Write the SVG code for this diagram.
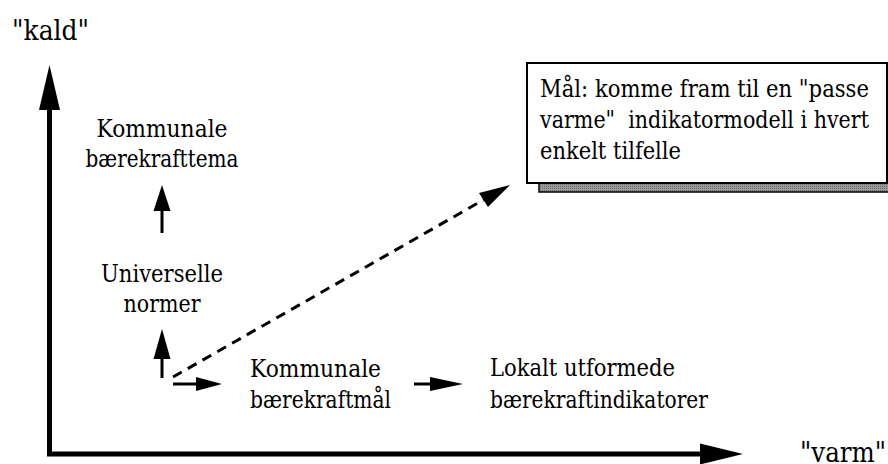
<svg xmlns="http://www.w3.org/2000/svg" width="888" height="464" viewBox="0 0 888 464">
  <style>
    text { font-family: "DejaVu Serif", "Liberation Serif", serif; fill: #000; }
    .lbl { font-size: 23.5px; }
    .axis-lbl { font-size: 27px; }
    .pre { white-space: pre; }
    .axis { stroke: #000; stroke-width: 5; fill: none; }
    .step { stroke: #000; stroke-width: 3; fill: none; }
    .dash { stroke: #000; stroke-width: 3; fill: none; stroke-dasharray: 10 7; }
    .head { fill: #000; stroke: none; }
  </style>
  <defs>
    <!-- fine halftone grey used for the drop shadow -->
    <pattern id="halftone" width="2" height="2" patternUnits="userSpaceOnUse">
      <rect width="2" height="2" fill="#9a9a9a"/>
      <rect width="1" height="1" fill="#6e6e6e"/>
    </pattern>
  </defs>

  <rect width="888" height="464" fill="#fff"/>

  <!-- axes -->
  <g id="axes">
    <line class="axis" x1="49.5" y1="456" x2="49.5" y2="105"/>
    <polygon class="head" points="49.5,65 39,110 60,110"/>
    <line class="axis" x1="47" y1="454" x2="705" y2="454"/>
    <polygon class="head" points="743,454 700,443.5 700,464.5"/>
    <text class="axis-lbl" x="12" y="40" textLength="77" lengthAdjust="spacingAndGlyphs">"kald"</text>
    <text class="axis-lbl" x="800" y="462" textLength="86" lengthAdjust="spacingAndGlyphs">"varm"</text>
  </g>

  <!-- nodes -->
  <g id="node-tema">
    <text class="lbl" x="162" y="137" text-anchor="middle" textLength="131" lengthAdjust="spacingAndGlyphs">Kommunale</text>
    <text class="lbl" x="162" y="167" text-anchor="middle" textLength="153" lengthAdjust="spacingAndGlyphs">bærekrafttema</text>
  </g>
  <g id="node-normer">
    <text class="lbl" x="162" y="282" text-anchor="middle" textLength="122" lengthAdjust="spacingAndGlyphs">Universelle</text>
    <text class="lbl" x="162" y="312" text-anchor="middle" textLength="77" lengthAdjust="spacingAndGlyphs">normer</text>
  </g>
  <g id="node-maal">
    <text class="lbl" x="250" y="377" textLength="131" lengthAdjust="spacingAndGlyphs">Kommunale</text>
    <text class="lbl" x="250" y="408" textLength="141" lengthAdjust="spacingAndGlyphs">bærekraftmål</text>
  </g>
  <g id="node-indikatorer">
    <text class="lbl" x="490" y="376" textLength="185" lengthAdjust="spacingAndGlyphs">Lokalt utformede</text>
    <text class="lbl" x="490" y="408" textLength="218" lengthAdjust="spacingAndGlyphs">bærekraftindikatorer</text>
  </g>
  <g id="node-goal">
    <rect x="539" y="73" width="360" height="119" fill="url(#halftone)" stroke="#000" stroke-width="1.5"/>
    <rect x="527" y="63" width="360" height="120" fill="#fff" stroke="#000" stroke-width="2"/>
    <text class="lbl" x="540" y="97" textLength="329" lengthAdjust="spacingAndGlyphs">Mål: komme fram til en "passe</text>
    <text class="lbl pre" x="540" y="128" textLength="329" lengthAdjust="spacingAndGlyphs">varme"  indikatormodell i hvert</text>
    <text class="lbl" x="540" y="159" textLength="141" lengthAdjust="spacingAndGlyphs">enkelt tilfelle</text>
  </g>

  <!-- connectors -->
  <g id="connectors">
    <line class="step" x1="162" y1="233" x2="162" y2="205"/>
    <polygon class="head" points="162,185 153.5,211 170.5,211"/>
    <line class="step" x1="162" y1="378" x2="162" y2="352"/>
    <polygon class="head" points="162,329 153.5,359 170.5,359"/>
    <line class="step" x1="173" y1="384" x2="200" y2="384"/>
    <polygon class="head" points="222,384 196,377 196,391"/>
    <line class="step" x1="414" y1="384" x2="434" y2="384"/>
    <polygon class="head" points="463,384 430,377 430,391"/>
    <line class="dash" x1="173" y1="377" x2="485" y2="199"/>
    <polygon class="head" points="510,185 479,193 488,207"/>
  </g>
</svg>
